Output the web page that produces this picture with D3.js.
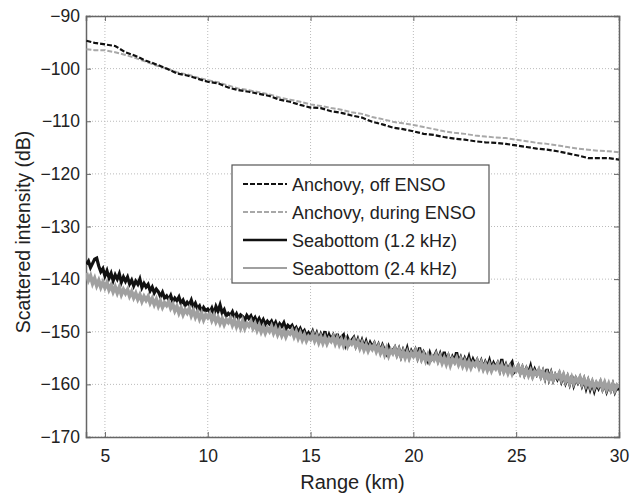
<!DOCTYPE html>
<html>
<head>
<meta charset="utf-8">
<script src="https://cdn.jsdelivr.net/npm/d3@7"></script>
<style>
  body { margin: 0; background: #fff; }
  svg { font-family: "Liberation Sans", Arial, sans-serif; }
  .grid line { stroke: #bbb; stroke-dasharray: 1,2; }
  .tickLabel { font-size: 17.5px; fill: #222; }
</style>
</head>
<body>
<script>
// range axis for anchovy curves (km)
var anchovyRange = [4.1, 4.5, 5, 5.5, 6, 6.5, 7, 7.5, 8, 8.5, 9, 9.5, 10, 10.5, 11, 11.5, 12, 12.5, 13, 13.5,
  14, 14.5, 15, 15.5, 16, 16.5, 17, 17.5, 18, 18.5, 19, 19.5, 20, 20.5, 21, 21.5, 22, 22.5, 23, 23.5,
  24, 24.5, 25, 25.5, 26, 26.5, 27, 27.5, 28, 28.5, 29, 29.5, 30];

var anchovyOff = [-94.7, -95.1, -95.4, -95.7, -96.9, -97.6, -98.5, -99.2, -100, -100.9, -101.3, -101.9, -102.5, -102.8, -103.6, -104.1, -104.4, -104.8, -105.2, -105.9,
  -106.3, -106.9, -107.4, -107.5, -108.1, -108.4, -108.9, -109.3, -110.1, -110.6, -111.2, -111.5, -111.9, -112.4, -112.6, -113, -113.3, -113.5, -113.8, -114,
  -114.1, -114.3, -114.6, -114.9, -115.2, -115.4, -115.7, -116.1, -116.5, -117, -117, -117, -117.3];

var anchovyDuring = [-96.3, -96.5, -96.5, -96.9, -97.4, -98, -98.7, -99.4, -100, -100.7, -101.1, -101.7, -102.2, -102.6, -103.2, -103.8, -104.1, -104.5, -104.9, -105.5,
  -105.9, -106.3, -106.8, -107.1, -107.5, -107.8, -108.3, -108.6, -109.2, -109.6, -110.1, -110.4, -110.7, -111.1, -111.5, -111.9, -112.2, -112.4, -112.7, -112.9,
  -113.1, -113.2, -113.5, -113.8, -114.1, -114.3, -114.6, -114.9, -115.2, -115.4, -115.6, -115.7, -115.9];

// range axis for seabottom curves (km), 4.1 .. 30.0, one row per km
var bottomRange = [
  4.1, 4.2, 4.3, 4.4, 4.5, 4.6, 4.7, 4.8, 4.9, 5.0,
  5.1, 5.2, 5.3, 5.4, 5.5, 5.6, 5.7, 5.8, 5.9, 6.0,
  6.1, 6.2, 6.3, 6.4, 6.5, 6.6, 6.7, 6.8, 6.9, 7.0,
  7.1, 7.2, 7.3, 7.4, 7.5, 7.6, 7.7, 7.8, 7.9, 8.0,
  8.1, 8.2, 8.3, 8.4, 8.5, 8.6, 8.7, 8.8, 8.9, 9.0,
  9.1, 9.2, 9.3, 9.4, 9.5, 9.6, 9.7, 9.8, 9.9, 10.0,
  10.1, 10.2, 10.3, 10.4, 10.5, 10.6, 10.7, 10.8, 10.9, 11.0,
  11.1, 11.2, 11.3, 11.4, 11.5, 11.6, 11.7, 11.8, 11.9, 12.0,
  12.1, 12.2, 12.3, 12.4, 12.5, 12.6, 12.7, 12.8, 12.9, 13.0,
  13.1, 13.2, 13.3, 13.4, 13.5, 13.6, 13.7, 13.8, 13.9, 14.0,
  14.1, 14.2, 14.3, 14.4, 14.5, 14.6, 14.7, 14.8, 14.9, 15.0,
  15.1, 15.2, 15.3, 15.4, 15.5, 15.6, 15.7, 15.8, 15.9, 16.0,
  16.1, 16.2, 16.3, 16.4, 16.5, 16.6, 16.7, 16.8, 16.9, 17.0,
  17.1, 17.2, 17.3, 17.4, 17.5, 17.6, 17.7, 17.8, 17.9, 18.0,
  18.1, 18.2, 18.3, 18.4, 18.5, 18.6, 18.7, 18.8, 18.9, 19.0,
  19.1, 19.2, 19.3, 19.4, 19.5, 19.6, 19.7, 19.8, 19.9, 20.0,
  20.1, 20.2, 20.3, 20.4, 20.5, 20.6, 20.7, 20.8, 20.9, 21.0,
  21.1, 21.2, 21.3, 21.4, 21.5, 21.6, 21.7, 21.8, 21.9, 22.0,
  22.1, 22.2, 22.3, 22.4, 22.5, 22.6, 22.7, 22.8, 22.9, 23.0,
  23.1, 23.2, 23.3, 23.4, 23.5, 23.6, 23.7, 23.8, 23.9, 24.0,
  24.1, 24.2, 24.3, 24.4, 24.5, 24.6, 24.7, 24.8, 24.9, 25.0,
  25.1, 25.2, 25.3, 25.4, 25.5, 25.6, 25.7, 25.8, 25.9, 26.0,
  26.1, 26.2, 26.3, 26.4, 26.5, 26.6, 26.7, 26.8, 26.9, 27.0,
  27.1, 27.2, 27.3, 27.4, 27.5, 27.6, 27.7, 27.8, 27.9, 28.0,
  28.1, 28.2, 28.3, 28.4, 28.5, 28.6, 28.7, 28.8, 28.9, 29.0,
  29.1, 29.2, 29.3, 29.4, 29.5, 29.6, 29.7, 29.8, 29.9, 30.0];

var bottom12 = [
  -137.2, -136.6, -137.8, -137.0, -136.2, -136.0, -137.5, -138.6, -138.0, -139.4,
  -138.4, -139.8, -138.9, -140.3, -139.2, -140.0, -139.0, -140.6, -139.6, -140.4,
  -139.6, -140.9, -140.2, -141.3, -140.4, -141.0, -140.0, -141.6, -140.8, -141.5,
  -141.0, -142.2, -141.5, -142.6, -141.9, -142.4, -143.3, -142.5, -143.6, -143.2,
  -143.9, -143.1, -144.3, -143.6, -144.1, -143.4, -144.6, -144.0, -145.0, -144.4,
  -144.9, -144.0, -145.3, -144.6, -145.6, -145.1, -146.2, -145.4, -146.0, -145.7,
  -146.3, -145.5, -146.6, -145.2, -146.1, -144.9, -146.4, -145.8, -147.0, -146.5,
  -146.9, -146.2, -147.3, -146.6, -147.5, -146.8, -147.1, -147.8, -146.9, -147.5,
  -147.0, -147.9, -147.3, -148.2, -147.5, -148.4, -147.7, -148.6, -148.0, -148.5,
  -148.0, -148.9, -148.2, -149.3, -148.5, -149.0, -148.3, -149.5, -148.8, -149.2,
  -148.8, -149.7, -149.2, -150.1, -149.4, -150.3, -149.8, -150.8, -150.2, -150.9,
  -150.0, -151.3, -150.3, -151.6, -150.5, -151.4, -149.9, -151.8, -150.6, -151.5,
  -150.7, -151.9, -150.4, -152.3, -151.0, -150.6, -152.4, -151.2, -152.2, -151.6,
  -151.1, -152.6, -151.5, -152.8, -151.7, -153.0, -151.9, -153.2, -152.1, -152.9,
  -152.2, -153.4, -152.5, -153.8, -152.6, -153.5, -154.2, -152.9, -153.9, -153.6,
  -153.0, -154.3, -153.3, -154.7, -153.5, -154.5, -153.2, -154.8, -153.7, -154.5,
  -153.5, -154.8, -153.0, -155.0, -153.9, -154.6, -155.5, -154.1, -155.2, -154.8,
  -154.0, -155.4, -154.3, -155.7, -153.8, -155.5, -154.6, -155.9, -154.8, -155.6,
  -153.9, -155.8, -154.9, -156.2, -155.1, -156.0, -154.8, -156.4, -155.3, -156.2,
  -155.4, -156.6, -155.6, -156.9, -155.8, -156.7, -155.5, -157.0, -156.0, -156.8,
  -156.0, -157.2, -155.2, -157.3, -156.3, -157.5, -156.4, -155.8, -157.7, -157.3,
  -156.5, -157.8, -156.8, -158.1, -157.0, -157.9, -156.6, -158.3, -157.2, -158.1,
  -157.3, -158.5, -157.5, -158.8, -157.1, -159.0, -157.8, -159.2, -158.2, -159.0,
  -158.0, -159.4, -158.3, -159.7, -158.6, -159.9, -158.4, -160.1, -158.9, -159.7,
  -158.8, -160.2, -159.1, -160.7, -159.4, -160.9, -159.7, -161.2, -159.9, -160.7,
  -159.6, -160.9, -159.9, -161.3, -160.2, -161.1, -160.0, -161.4, -160.4, -161.1];

var bottom24 = [
  -138.8, -140.2, -139.4, -140.8, -139.9, -141.2, -140.3, -141.5, -140.6, -141.6,
  -140.7, -142.0, -141.2, -142.4, -141.5, -142.6, -141.6, -142.9, -142.0, -142.7,
  -142.0, -143.2, -142.4, -143.5, -142.7, -143.8, -143.0, -144.2, -143.3, -144.0,
  -143.3, -144.5, -143.7, -144.8, -143.9, -145.1, -144.2, -145.3, -144.5, -145.0,
  -144.3, -145.5, -144.8, -146.0, -145.2, -146.4, -145.5, -146.7, -145.8, -146.4,
  -145.6, -146.9, -146.0, -147.2, -146.3, -147.5, -146.5, -147.7, -146.8, -147.3,
  -146.6, -147.8, -146.9, -148.1, -147.3, -148.4, -147.5, -148.6, -147.7, -148.2,
  -147.5, -148.7, -147.8, -149.0, -148.1, -149.2, -148.0, -149.3, -148.4, -148.9,
  -148.1, -149.3, -148.5, -149.7, -148.8, -150.0, -149.1, -150.2, -149.3, -149.9,
  -149.0, -150.2, -149.3, -150.5, -149.6, -150.7, -149.8, -150.9, -150.0, -150.4,
  -149.7, -150.9, -150.0, -151.2, -150.3, -151.5, -150.6, -151.7, -150.9, -151.4,
  -150.5, -151.7, -150.8, -152.0, -151.0, -152.1, -151.1, -152.2, -151.3, -151.8,
  -151.0, -152.2, -151.2, -152.4, -151.5, -152.6, -151.6, -152.7, -151.8, -152.3,
  -151.6, -152.7, -151.9, -153.1, -152.2, -153.4, -152.5, -153.6, -152.7, -153.3,
  -152.5, -153.7, -152.8, -154.0, -153.1, -154.3, -153.2, -154.5, -153.5, -154.1,
  -153.2, -154.4, -153.5, -154.7, -153.8, -154.9, -153.9, -155.0, -154.0, -154.6,
  -153.7, -154.9, -154.0, -155.2, -154.3, -155.5, -154.5, -155.6, -154.7, -155.3,
  -154.4, -155.6, -154.7, -155.9, -155.0, -156.1, -154.9, -156.3, -155.2, -155.8,
  -155.0, -156.2, -155.3, -156.5, -155.6, -156.7, -155.7, -156.8, -155.9, -156.4,
  -155.6, -156.8, -155.9, -157.1, -156.2, -157.3, -156.3, -157.4, -156.5, -157.0,
  -156.2, -157.4, -156.4, -157.6, -156.7, -157.8, -156.8, -157.9, -156.9, -157.4,
  -156.6, -157.8, -156.9, -158.1, -157.2, -158.3, -157.4, -158.5, -157.6, -158.1,
  -157.3, -158.5, -157.6, -158.8, -157.9, -159.0, -158.0, -159.1, -158.2, -158.7,
  -157.9, -159.1, -158.2, -159.4, -158.5, -159.7, -158.7, -159.8, -158.9, -159.5,
  -158.7, -159.9, -159.0, -160.2, -159.3, -160.4, -159.5, -160.6, -159.7, -160.3,
  -159.5, -160.7, -159.7, -160.9, -159.9, -161.0, -160.0, -161.1, -160.2, -160.6];

var xTicks = [5, 10, 15, 20, 25, 30];
var yTicks = [-170, -160, -150, -140, -130, -120, -110, -100, -90];
var legendLabels = ["Anchovy, off ENSO", "Anchovy, during ENSO", "Seabottom (1.2 kHz)", "Seabottom (2.4 kHz)"];

var width = 630, height = 496;
var plotLeft = 86, plotRight = 619, plotTop = 16, plotBottom = 437;

var svg = d3.select("body")
        .append("svg")
        .attr("width", width)
        .attr("height", height);

var x = d3.scaleLinear().domain([4.08, 30]).range([plotLeft, plotRight]);
var y = d3.scaleLinear().domain([-170, -90]).range([plotBottom, plotTop]);

//grid
var grid = svg.append("g").attr("class", "grid");
grid.selectAll(".gx").data(xTicks).enter().append("line")
    .attr("x1", d => x(d)).attr("x2", d => x(d))
    .attr("y1", plotTop).attr("y2", plotBottom);
grid.selectAll(".gy").data(yTicks).enter().append("line")
    .attr("x1", plotLeft).attr("x2", plotRight)
    .attr("y1", d => y(d)).attr("y2", d => y(d));

//axes
var fmt = d3.format("d");
var xAxis = svg.append("g")
    .attr("transform", "translate(0," + plotBottom + ")")
    .call(d3.axisBottom(x).tickValues(xTicks).tickSize(-5).tickPadding(13).tickFormat(fmt));
var yAxis = svg.append("g")
    .attr("transform", "translate(" + plotLeft + ",0)")
    .call(d3.axisLeft(y).tickValues(yTicks).tickSize(-5).tickPadding(6).tickFormat(d => fmt(d).replace("-", "\u2212")));
var xTop = svg.append("g")
    .attr("transform", "translate(0," + plotTop + ")")
    .call(d3.axisTop(x).tickValues(xTicks).tickSize(-5).tickFormat(""));
var yRight = svg.append("g")
    .attr("transform", "translate(" + plotRight + ",0)")
    .call(d3.axisRight(y).tickValues(yTicks).tickSize(-5).tickFormat(""));

[xAxis, yAxis, xTop, yRight].forEach(function(a){
  a.select(".domain").attr("stroke", "#666").attr("stroke-width", 1.5);
  a.selectAll(".tick line").attr("stroke", "#666");
  a.selectAll(".tick text").attr("class", "tickLabel").attr("font-size", null).attr("font-family", null);
});

//lines
svg.append("clipPath").attr("id", "clip")
    .append("rect").attr("x", plotLeft).attr("y", plotTop)
    .attr("width", plotRight - plotLeft).attr("height", plotBottom - plotTop);

var plot = svg.append("g").attr("clip-path", "url(#clip)");

function drawLine(xs, ys, color, w, dash){
  var line = d3.line().x((d, i) => x(xs[i])).y(d => y(d));
  plot.append("path")
      .datum(ys)
      .attr("d", line)
      .attr("fill", "none")
      .attr("stroke", color)
      .attr("stroke-width", w)
      .attr("stroke-linejoin", "miter")
      .attr("stroke-dasharray", dash);
}

drawLine(bottomRange, bottom12, "#111", 3.2, null);
drawLine(bottomRange, bottom24, "#a0a0a0", 3.8, null);
drawLine(anchovyRange, anchovyDuring, "#a8a8a8", 2, "5,2");
drawLine(anchovyRange, anchovyOff, "#111", 2.2, "5,2");

//legend
var legend = svg.append("g");
legend.append("rect")
    .attr("x", 232).attr("y", 165)
    .attr("width", 257).attr("height", 118)
    .attr("fill", "#fff").attr("stroke", "#555").attr("stroke-width", 1.2);

var legColors = ["#111", "#a8a8a8", "#111", "#a0a0a0"];
var legDash = ["5,2", "5,2", null, null];
var legWidth = [2.2, 2, 2.5, 2];
legendLabels.forEach(function(lab, i){
  var ly = 184 + i * 28;
  legend.append("line")
      .attr("x1", 243).attr("x2", 287)
      .attr("y1", ly).attr("y2", ly)
      .attr("stroke", legColors[i])
      .attr("stroke-width", legWidth[i])
      .attr("stroke-dasharray", legDash[i]);
  legend.append("text")
      .attr("x", 292).attr("y", ly + 6.5)
      .attr("font-size", "18px")
      .attr("fill", "#222")
      .text(lab);
});

//axis labels
svg.append("text")
    .attr("x", (plotLeft + plotRight) / 2).attr("y", 489)
    .attr("text-anchor", "middle")
    .attr("font-size", "20px")
    .attr("fill", "#222")
    .text("Range (km)");
svg.append("text")
    .attr("transform", "translate(30,232) rotate(-90)")
    .attr("text-anchor", "middle")
    .attr("font-size", "19.5px")
    .attr("fill", "#222")
    .text("Scattered intensity (dB)");
</script>
</body>
</html>
